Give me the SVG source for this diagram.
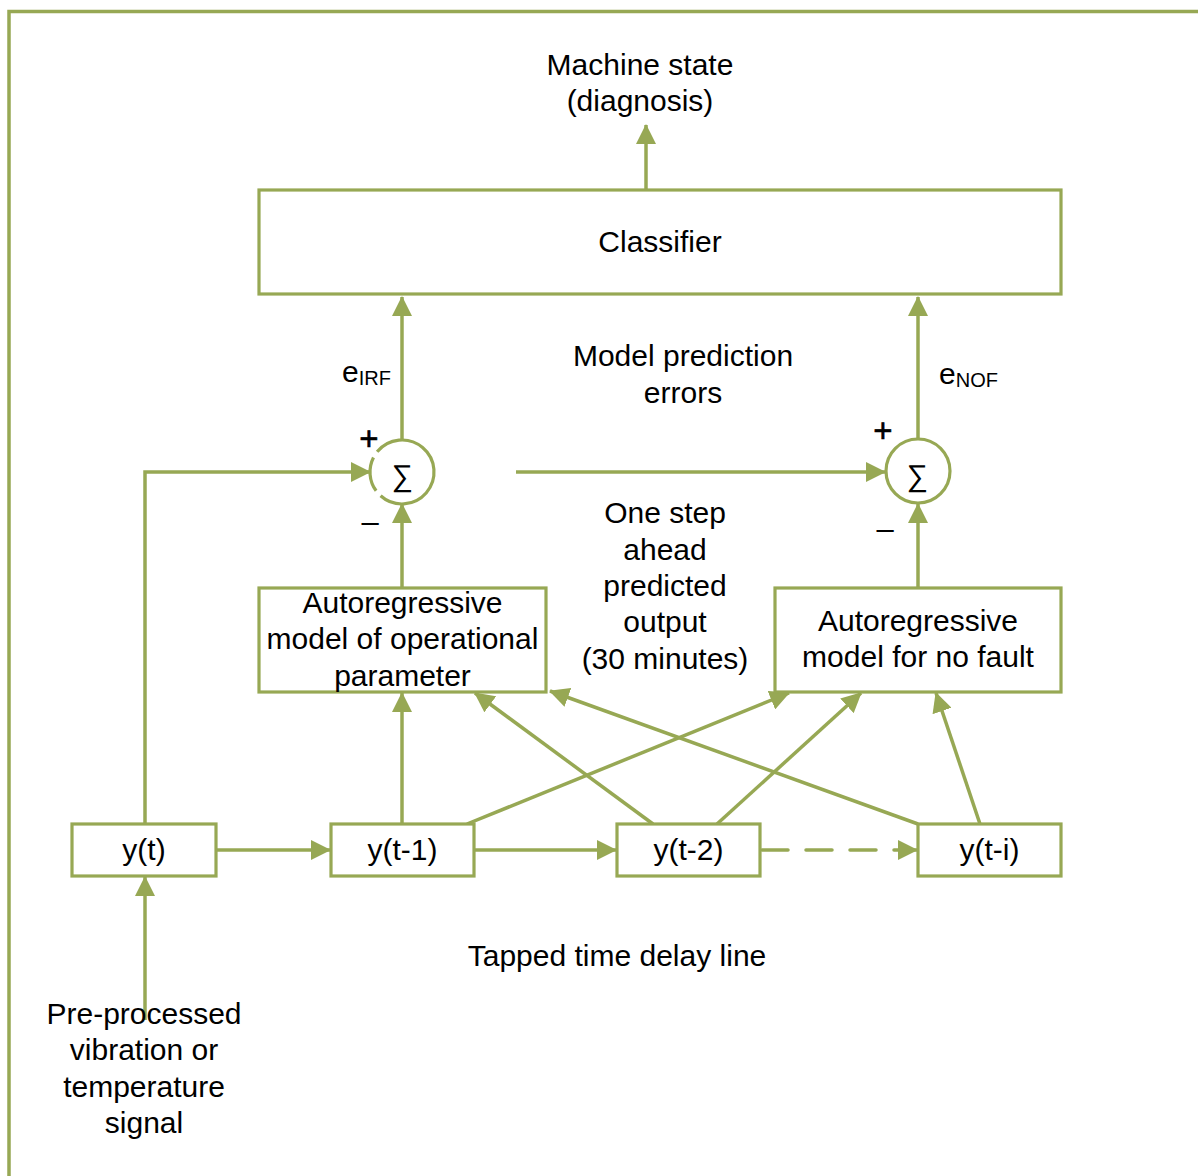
<svg xmlns="http://www.w3.org/2000/svg" width="1198" height="1176" viewBox="0 0 1198 1176">
  <style>
    .frame { fill: none; stroke: #97A854; stroke-width: 3.5; }
    .box { fill: #FFFFFF; stroke: #97A854; stroke-width: 3.2; }
    .sum { fill: #FFFFFF; stroke: #97A854; stroke-width: 3.2; }
    .arc { fill: none; stroke: #97A854; stroke-width: 3.2; }
    .wire { fill: none; stroke: #97A854; stroke-width: 3.5; }
    .dash { stroke-dasharray: 26 18; stroke-linecap: round; }
    text { font-family: "Liberation Sans", Arial, sans-serif; font-size: 30px; fill: #000000; text-anchor: middle; }
    .sub { font-size: 20px; }
    .start { text-anchor: start; }
    .plus { font-size: 33px; stroke: #000000; stroke-width: 0.6; }
    .minus { font-size: 31px; }
  </style>
  <defs>
    <marker id="ah" viewBox="0 0 20 20" refX="19" refY="10" markerWidth="20" markerHeight="20" markerUnits="userSpaceOnUse" orient="auto">
      <path d="M0,0 L20,10 L0,20 z" fill="#97A854"/>
    </marker>
  </defs>

  <!-- outer frame (top and left edges only) -->
  <path class="frame" d="M9,1176 V11.5 H1198"/>

  <!-- connectors -->
  <g id="connectors">
    <line class="wire" x1="646" y1="190" x2="646" y2="125" marker-end="url(#ah)"/>
    <line class="wire" x1="402" y1="439" x2="402" y2="297" marker-end="url(#ah)"/>
    <line class="wire" x1="918" y1="439" x2="918" y2="297" marker-end="url(#ah)"/>
    <line class="wire" x1="402" y1="588" x2="402" y2="504" marker-end="url(#ah)"/>
    <line class="wire" x1="918" y1="588" x2="918" y2="504" marker-end="url(#ah)"/>
    <polyline class="wire" points="145,824 145,472 370,472" marker-end="url(#ah)"/>
    <line class="wire" x1="516" y1="472" x2="885" y2="472" marker-end="url(#ah)"/>
    <line class="wire" x1="145" y1="1020" x2="145" y2="877" marker-end="url(#ah)"/>
    <line class="wire" x1="216" y1="850" x2="330" y2="850" marker-end="url(#ah)"/>
    <line class="wire" x1="474" y1="850" x2="616" y2="850" marker-end="url(#ah)"/>
    <line class="wire dash" x1="762" y1="850" x2="905" y2="850"/>
    <line class="wire" x1="900" y1="850" x2="917" y2="850" marker-end="url(#ah)"/>
    <line class="wire" x1="402" y1="824" x2="402" y2="693" marker-end="url(#ah)"/>
    <line class="wire" x1="467" y1="824" x2="789" y2="693" marker-end="url(#ah)"/>
    <line class="wire" x1="653" y1="824" x2="475" y2="693" marker-end="url(#ah)"/>
    <line class="wire" x1="717" y1="824" x2="861" y2="693" marker-end="url(#ah)"/>
    <line class="wire" x1="918" y1="824" x2="550" y2="691" marker-end="url(#ah)"/>
    <line class="wire" x1="980" y1="824" x2="936" y2="693" marker-end="url(#ah)"/>
  </g>

  <!-- output label -->
  <g id="output">
    <text x="640" y="75">Machine state</text>
    <text x="640" y="111">(diagnosis)</text>
  </g>

  <g id="classifier">
    <rect class="box" x="259" y="190" width="802" height="104"/>
    <text x="660" y="252">Classifier</text>
  </g>

  <g id="errors-label">
    <text x="683" y="366">Model prediction</text>
    <text x="683" y="403">errors</text>
  </g>

  <g id="e-irf">
    <text class="start" x="342" y="382">e<tspan class="sub" dy="3">IRF</tspan></text>
  </g>
  <g id="e-nof">
    <text class="start" x="939" y="384">e<tspan class="sub" dy="3">NOF</tspan></text>
  </g>

  <!-- summing junction, IRF branch (open where the input wire meets it) -->
  <g id="sum-irf">
    <path class="arc" d="M377.13,451.86 A32,32 0 1 1 380.59,495.78 M376.11,490.81 A32,32 0 0 1 373.49,457.47"/>
    <text x="402.5" y="486">∑</text>
    <text class="plus" x="369" y="450">+</text>
    <text class="minus" x="370" y="532">–</text>
  </g>

  <g id="sum-nof">
    <circle class="sum" cx="918" cy="471" r="32"/>
    <text x="917.5" y="486">∑</text>
    <text class="plus" x="883" y="442">+</text>
    <text class="minus" x="885" y="539">–</text>
  </g>

  <g id="predicted-label">
    <text x="665" y="523">One step</text>
    <text x="665" y="559.5">ahead</text>
    <text x="665" y="596">predicted</text>
    <text x="665" y="632">output</text>
    <text x="665" y="668.5">(30 minutes)</text>
  </g>

  <g id="model-operational">
    <rect class="box" x="259" y="588" width="287" height="104"/>
    <text x="402.5" y="613">Autoregressive</text>
    <text x="402.5" y="649">model of operational</text>
    <text x="402.5" y="686">parameter</text>
  </g>

  <g id="model-nofault">
    <rect class="box" x="775" y="588" width="286" height="104"/>
    <text x="918" y="631">Autoregressive</text>
    <text x="918" y="667">model for no fault</text>
  </g>

  <g id="tap-0">
    <rect class="box" x="72" y="824" width="144" height="52"/>
    <text x="144" y="860">y(t)</text>
  </g>
  <g id="tap-1">
    <rect class="box" x="331" y="824" width="143" height="52"/>
    <text x="402.5" y="860">y(t-1)</text>
  </g>
  <g id="tap-2">
    <rect class="box" x="617" y="824" width="143" height="52"/>
    <text x="688.5" y="860">y(t-2)</text>
  </g>
  <g id="tap-i">
    <rect class="box" x="918" y="824" width="143" height="52"/>
    <text x="989.5" y="860">y(t-i)</text>
  </g>

  <g id="delay-label">
    <text x="617" y="966">Tapped time delay line</text>
  </g>

  <g id="input-label">
    <text x="144" y="1024">Pre-processed</text>
    <text x="144" y="1060">vibration or</text>
    <text x="144" y="1097">temperature</text>
    <text x="144" y="1133">signal</text>
  </g>
</svg>
